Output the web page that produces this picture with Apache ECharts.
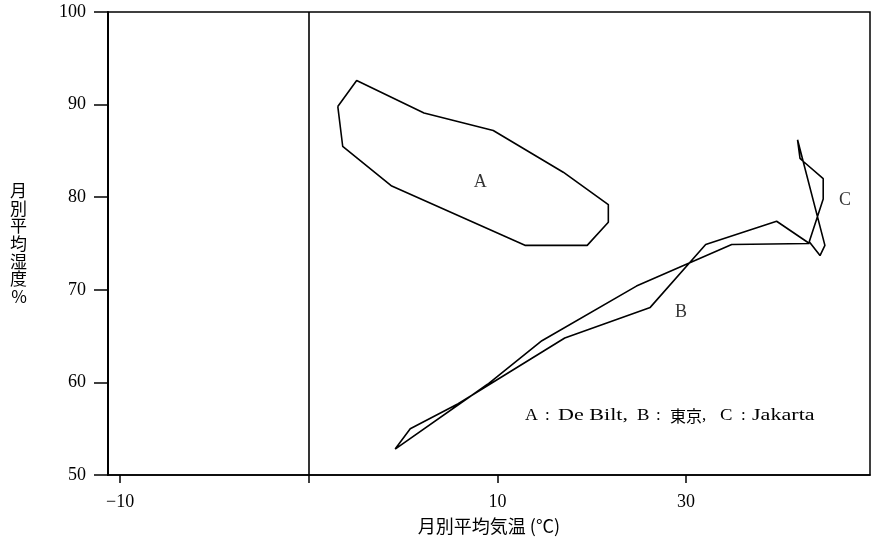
<!DOCTYPE html>
<html><head><meta charset="utf-8">
<script src="https://cdn.jsdelivr.net/npm/echarts@6/dist/echarts.min.js"></script>
<style>html,body{margin:0;padding:0;background:#fff}#c{width:873px;height:540px}</style>
</head><body><div id="c"></div>
<script>
// Monthly mean temperature (°C) / monthly mean humidity (%)
const deBiltTemp = [1.54, 1.80, 4.40, 11.46, 14.76, 15.88, 15.88, 13.49, 9.78, 6.11, 2.54];
const deBiltHum  = [89.8, 85.5, 81.2, 74.8, 74.8, 77.3, 79.2, 82.7, 87.2, 89.1, 92.6];
const tokyoTemp  = [4.58, 5.38, 7.92, 13.57, 18.10, 21.04, 24.80, 26.54, 22.42, 17.37, 12.36, 9.48];
const tokyoHum   = [52.8, 55.0, 57.7, 64.8, 68.1, 74.9, 77.4, 75.0, 74.9, 70.4, 64.5, 59.8];
const jakartaTemp = [25.91, 26.04, 26.25, 27.27, 27.27, 26.53, 27.10, 27.36];
const jakartaHum  = [86.2, 84.2, 83.8, 82.0, 79.8, 75.2, 73.7, 74.8];
const xTickValues = [-10, 0, 10, 20];
const xLabelValues = [-10, 10, 20];
const xLabelTexts = ['\u221210', '10', '30'];
const yTicks = [50, 60, 70, 80, 90, 100];
const curveNames = ['A', 'B', 'C'];
const curveLabelPos = [[9.09, 81.6], [19.73, 67.6], [28.42, 79.7]];
const noteParts = ['A', ':', 'De Bilt,', 'B', ':', '東京', ',', 'C', ':', 'Jakarta'];

function loop(xs, ys) {
  const d = xs.map((x, i) => [x, ys[i]]);
  d.push(d[0]);
  return d;
}
const serif = 'Liberation Serif, Noto Sans CJK JP, serif';
const lineStyle = { color: '#000', width: 1.6 };

// note text pieces (pixel layout)
const noteX = [525, 545, 558, 637, 656, 670, 702, 720, 741, 752];
const noteScale = [1.05, 1, 1.3, 1.1, 1, 1, 1, 1.1, 1, 1.3];
const noteGraphics = noteParts.map((t, i) => {
  const cjk = /[\u3000-\u9fff]/.test(t);
  return {
    type: 'text', x: noteX[i], y: 416, scaleX: noteScale[i], silent: true,
    style: { text: t, fill: '#000', verticalAlign: 'middle', align: 'left',
      font: cjk ? '16px Noto Sans CJK JP' : '17px Liberation Serif' }
  };
});

const chart = echarts.init(document.getElementById('c'), null, { renderer: 'canvas' });
chart.setOption({
  backgroundColor: '#fff',
  animation: false,
  grid: { left: 108, right: 3, top: 12, bottom: 64, show: true, borderColor: '#000', borderWidth: 1.5 },
  xAxis: {
    type: 'value', min: -10.64, max: 29.75,
    name: '月別平均気温 (°C)', nameLocation: 'middle', nameGap: 42,
    nameTextStyle: { fontFamily: 'Noto Sans CJK JP', fontSize: 18, color: '#000' },
    axisLine: { show: true, onZero: false, lineStyle: { color: '#000', width: 1.6 } },
    axisTick: { show: true, length: 8, inside: false, customValues: xTickValues, lineStyle: { color: '#000', width: 1.5 } },
    axisLabel: { customValues: xLabelValues, margin: 18, fontFamily: serif, fontSize: 18, color: '#000',
      formatter: v => xLabelTexts[xLabelValues.indexOf(v)] },
    splitLine: { show: false }
  },
  yAxis: {
    type: 'value', min: yTicks[0], max: yTicks[yTicks.length - 1], interval: 10,
    name: '月\n別\n平\n均\n湿\n度\n%', nameLocation: 'middle', nameRotate: 0, nameGap: 81,
    nameTextStyle: { fontFamily: 'Noto Sans CJK JP', fontSize: 17, lineHeight: 17.6, color: '#000' },
    axisLine: { show: true, onZero: false, lineStyle: { color: '#000', width: 2 } },
    axisTick: { show: true, length: 14, lineStyle: { color: '#000', width: 1.5 } },
    axisLabel: { margin: 22, fontFamily: serif, fontSize: 18, color: '#000' },
    splitLine: { show: false }
  },
  series: [
    { type: 'line', name: 'A', data: loop(deBiltTemp, deBiltHum), symbol: 'none', lineStyle,
      markLine: { silent: true, symbol: 'none', label: { show: false },
        lineStyle: { color: '#000', width: 1.6, type: 'solid' }, data: [{ xAxis: 0 }] } },
    { type: 'line', name: 'B', data: loop(tokyoTemp, tokyoHum), symbol: 'none', lineStyle },
    { type: 'line', name: 'C', data: loop(jakartaTemp, jakartaHum), symbol: 'none', lineStyle },
    { type: 'scatter', symbolSize: 0, silent: true,
      data: curveLabelPos.map((p, i) => ({ value: p, name: curveNames[i] })),
      label: { show: true, position: 'inside', formatter: p => p.name, fontFamily: serif, fontSize: 18, color: '#000' } }
  ],
  graphic: noteGraphics
});
</script></body></html>
